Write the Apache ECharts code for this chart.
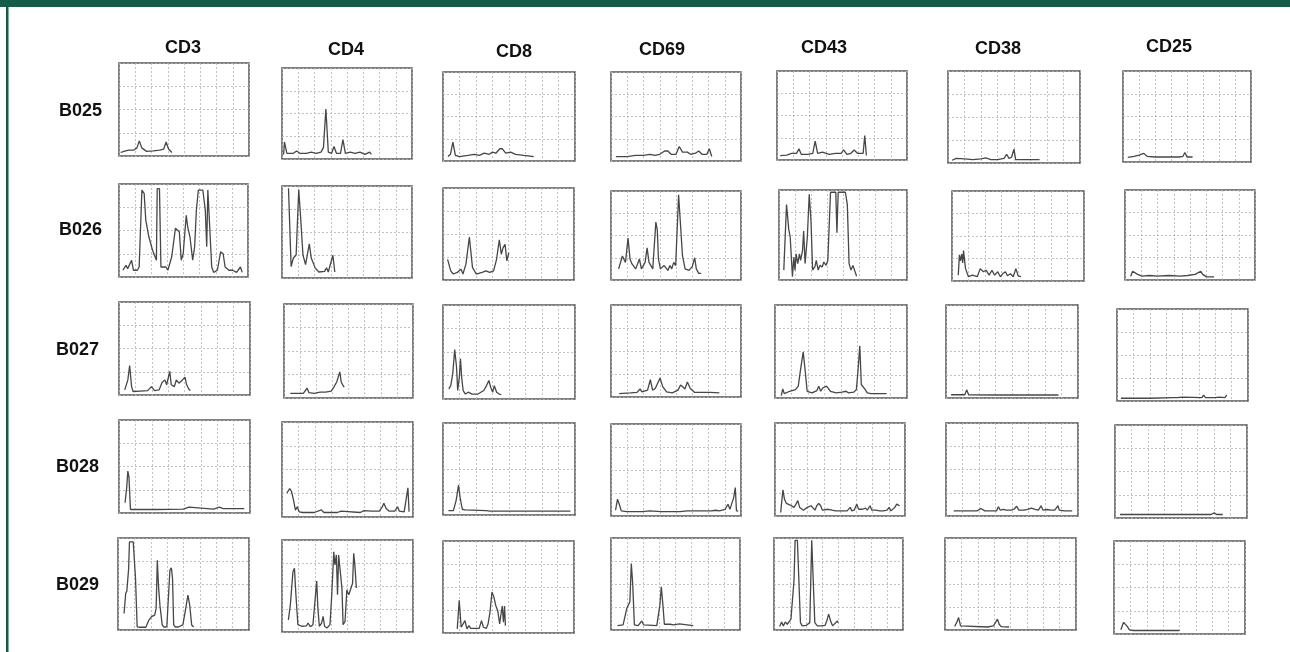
<!DOCTYPE html>
<html><head><meta charset="utf-8">
<script src="https://cdn.jsdelivr.net/npm/echarts@6/dist/echarts.min.js"></script>
<style>html,body{margin:0;padding:0;background:#fff}#c{width:1290px;height:652px}</style>
</head><body><div id="c"></div>
<script>
// ---- categories ----
const samples = ['B025','B026','B027','B028','B029'];
const markers = ['CD3','CD4','CD8','CD69','CD43','CD38','CD25'];

// ---- traces: [x (grid columns 0..8), y (grid rows 0..4)] ----
const B025_CD3 = [[0.1,0.15],[0.3,0.2],[0.6,0.25],[0.9,0.25],[1.1,0.35],[1.25,0.65],[1.4,0.35],[1.7,0.2],[2.1,0.22],[2.5,0.25],[2.75,0.3],[2.9,0.6],[3.05,0.3],[3.25,0.15]];
const B025_CD4 = [[0.1,0.2],[0.15,0.75],[0.3,0.25],[0.7,0.25],[0.9,0.35],[1.1,0.25],[1.5,0.25],[1.8,0.3],[2.1,0.25],[2.4,0.3],[2.55,0.5],[2.7,2.2],[2.85,0.3],[3.05,0.25],[3.2,0.55],[3.35,0.25],[3.6,0.25],[3.75,0.85],[3.9,0.25],[4.2,0.3],[4.5,0.25],[4.8,0.3],[5.1,0.2],[5.4,0.3],[5.5,0.2]];
const B025_CD8 = [[0.3,0.2],[0.45,0.3],[0.6,0.85],[0.75,0.25],[1.0,0.2],[1.5,0.25],[1.9,0.3],[2.2,0.25],[2.5,0.35],[2.8,0.3],[3.0,0.4],[3.2,0.35],[3.45,0.55],[3.6,0.55],[3.8,0.35],[4.1,0.4],[4.4,0.3],[4.9,0.25],[5.5,0.2]];
const B025_CD69 = [[0.3,0.2],[1.0,0.2],[1.5,0.25],[2.0,0.25],[2.4,0.3],[2.7,0.25],[3.0,0.3],[3.3,0.45],[3.5,0.45],[3.7,0.3],[4.0,0.3],[4.2,0.65],[4.4,0.4],[4.7,0.4],[4.9,0.3],[5.2,0.35],[5.4,0.45],[5.6,0.3],[5.9,0.3],[6.05,0.55],[6.2,0.2]];
const B025_CD43 = [[0.2,0.2],[0.6,0.22],[0.9,0.3],[1.2,0.3],[1.35,0.5],[1.5,0.25],[1.9,0.25],[2.2,0.3],[2.35,0.85],[2.5,0.3],[2.8,0.35],[3.2,0.25],[3.6,0.3],[3.95,0.3],[4.1,0.45],[4.3,0.25],[4.55,0.3],[4.75,0.45],[4.95,0.3],[5.3,0.3],[5.4,1.1],[5.5,0.2]];
const B025_CD38 = [[0.25,0.12],[0.5,0.2],[1.0,0.18],[1.5,0.15],[2.0,0.18],[2.3,0.22],[2.6,0.15],[3.0,0.15],[3.4,0.2],[3.55,0.38],[3.7,0.2],[3.85,0.25],[4.0,0.6],[4.1,0.15],[4.5,0.15],[5.0,0.15],[5.55,0.15]];
const B025_CD25 = [[0.3,0.2],[0.7,0.25],[1.0,0.3],[1.3,0.38],[1.5,0.25],[2.0,0.22],[2.5,0.22],[3.0,0.22],[3.5,0.22],[3.75,0.25],[3.87,0.42],[4.0,0.22],[4.35,0.22]];

const B026_CD3 = [[0.24,0.29],[0.43,0.5],[0.54,0.36],[0.78,0.72],[0.9,0.29],[1.14,0.29],[1.25,0.43],[1.42,3.74],[1.56,3.6],[1.66,2.45],[1.85,1.73],[2.08,1.15],[2.32,0.72],[2.37,3.8],[2.51,3.8],[2.6,0.43],[2.91,0.43],[3.03,0.29],[3.27,0.87],[3.5,2.1],[3.74,1.95],[3.86,0.72],[3.98,1.0],[4.17,2.65],[4.26,2.16],[4.4,1.73],[4.57,0.72],[4.69,1.3],[4.8,2.88],[4.92,3.74],[5.2,3.74],[5.35,2.88],[5.44,1.3],[5.51,3.74],[5.63,3.74],[5.75,0.43],[5.87,0.2],[6.1,0.29],[6.3,1.08],[6.46,1.0],[6.58,0.43],[6.82,0.29],[7.05,0.29],[7.29,0.2],[7.53,0.43],[7.64,0.2]];
const B026_CD4 = [[0.4,3.9],[0.56,0.5],[0.7,0.87],[0.87,1.0],[1.03,3.85],[1.15,2.6],[1.29,1.0],[1.45,0.58],[1.68,1.48],[1.8,0.87],[2.04,0.44],[2.27,0.26],[2.62,0.29],[2.74,0.44],[2.85,0.26],[2.97,0.29],[3.13,0.99],[3.25,0.26]];
const B026_CD8 = [[0.28,0.9],[0.47,0.4],[0.63,0.26],[0.87,0.33],[1.1,0.47],[1.22,0.26],[1.4,0.69],[1.61,1.87],[1.8,0.55],[2.03,0.26],[2.39,0.33],[2.62,0.4],[2.74,0.47],[2.85,0.33],[3.09,0.4],[3.27,0.9],[3.44,1.75],[3.56,1.12],[3.67,1.41],[3.79,1.55],[3.9,0.83],[4.02,1.19]];
const B026_CD69 = [[0.47,0.5],[0.7,1.08],[0.89,0.79],[1.05,1.88],[1.17,0.94],[1.29,0.72],[1.52,0.5],[1.75,0.94],[1.87,0.5],[2.1,0.79],[2.22,1.44],[2.34,0.79],[2.57,0.5],[2.76,2.6],[2.85,2.24],[2.92,0.94],[3.04,0.5],[3.27,0.65],[3.5,0.43],[3.63,0.65],[3.74,0.5],[3.86,0.79],[3.98,0.65],[4.16,3.83],[4.26,3.83],[4.4,1.08],[4.56,0.5],[4.8,0.43],[5.0,0.6],[5.15,1.0],[5.25,0.5],[5.4,0.3],[5.55,0.3]];
const B026_CD43 = [[0.3,0.44],[0.47,3.35],[0.61,2.25],[0.7,1.9],[0.84,0.15],[0.93,1.02],[1.0,0.44],[1.07,1.16],[1.17,0.73],[1.28,1.16],[1.35,0.87],[1.47,1.31],[1.54,2.18],[1.63,0.73],[1.77,1.9],[1.89,3.81],[2.0,2.62],[2.1,0.44],[2.24,0.58],[2.33,0.87],[2.45,0.44],[2.56,0.65],[2.7,0.58],[2.8,0.8],[2.94,0.65],[3.05,0.87],[3.22,3.9],[3.55,3.9],[3.62,2.1],[3.7,3.9],[4.15,3.9],[4.27,3.35],[4.38,0.73],[4.5,0.44],[4.62,0.65],[4.73,0.58],[4.85,0.17]];
const B026_CD38 = [[0.38,0.26],[0.45,1.16],[0.52,0.9],[0.59,1.2],[0.65,0.8],[0.7,1.35],[0.82,0.55],[1.0,0.19],[1.24,0.26],[1.53,0.19],[1.71,0.55],[1.9,0.41],[2.07,0.48],[2.25,0.26],[2.42,0.48],[2.58,0.26],[2.77,0.41],[2.93,0.19],[3.08,0.33],[3.24,0.41],[3.36,0.23],[3.54,0.32],[3.71,0.19],[3.87,0.55],[4.01,0.23],[4.18,0.19]];
const B026_CD25 = [[0.35,0.17],[0.47,0.39],[0.58,0.46],[0.77,0.25],[1.05,0.17],[1.52,0.2],[1.98,0.17],[2.68,0.2],[3.38,0.17],[3.85,0.2],[4.31,0.25],[4.66,0.39],[4.78,0.25],[5.01,0.14],[5.48,0.14]];

const B027_CD3 = [[0.35,0.22],[0.54,0.65],[0.65,1.27],[0.77,0.36],[0.86,0.15],[1.28,0.17],[1.75,0.19],[1.98,0.36],[2.17,0.19],[2.45,0.22],[2.63,0.54],[2.8,0.65],[2.91,0.44],[3.1,1.02],[3.19,0.44],[3.38,0.36],[3.5,0.65],[3.66,0.51],[3.85,0.63],[4.03,0.77],[4.13,0.44],[4.27,0.25],[4.36,0.19]];
const B027_CD4 = [[0.39,0.2],[1.2,0.2],[1.43,0.42],[1.54,0.23],[1.89,0.2],[2.24,0.25],[2.35,0.29],[2.58,0.25],[2.93,0.29],[3.09,0.46],[3.27,0.68],[3.46,1.11],[3.55,0.68],[3.64,0.56],[3.73,0.46]];
const B027_CD8 = [[0.35,0.43],[0.47,0.57],[0.59,1.07],[0.71,2.1],[0.82,1.36],[0.89,0.36],[0.99,0.93],[1.06,1.71],[1.13,0.93],[1.22,0.36],[1.36,0.21],[1.53,0.29],[1.76,0.21],[2.12,0.21],[2.47,0.36],[2.64,0.57],[2.78,0.79],[2.89,0.5],[3.01,0.29],[3.11,0.57],[3.25,0.29],[3.41,0.21],[3.53,0.19]];
const B027_CD69 = [[0.5,0.15],[1.2,0.18],[1.6,0.2],[1.79,0.35],[1.9,0.22],[2.25,0.3],[2.42,0.75],[2.56,0.3],[2.72,0.37],[3.02,0.82],[3.19,0.44],[3.42,0.22],[3.77,0.18],[4.12,0.3],[4.28,0.52],[4.42,0.44],[4.55,0.35],[4.7,0.65],[4.88,0.37],[5.15,0.2],[5.5,0.2],[5.85,0.2],[5.95,0.28],[6.1,0.2],[6.67,0.18]];
const B027_CD43 = [[0.38,0.1],[0.47,0.39],[0.56,0.19],[0.89,0.29],[1.24,0.36],[1.41,0.51],[1.55,1.23],[1.71,1.98],[1.83,1.16],[1.95,0.29],[2.25,0.22],[2.54,0.32],[2.65,0.51],[2.77,0.29],[2.89,0.43],[3.0,0.36],[3.12,0.51],[3.24,0.53],[3.36,0.29],[3.71,0.22],[4.06,0.25],[4.3,0.29],[4.46,0.22],[4.77,0.25],[4.93,0.36],[5.02,1.08],[5.14,2.24],[5.23,0.58],[5.35,0.51],[5.47,0.36],[5.59,0.22],[5.82,0.19],[6.76,0.19]];
const B027_CD38 = [[0.31,0.14],[1.14,0.14],[1.26,0.35],[1.37,0.14],[3.03,0.13],[5.4,0.13],[6.82,0.13]];
const B027_CD25 = [[0.24,0.12],[2.0,0.12],[3.41,0.15],[3.53,0.22],[3.65,0.15],[4.0,0.17],[4.12,0.15],[5.18,0.15],[5.29,0.25],[5.41,0.15],[6.0,0.15],[6.24,0.17],[6.59,0.15],[6.7,0.26]];

const B028_CD3 = [[0.37,0.44],[0.47,1.09],[0.54,1.8],[0.61,1.53],[0.7,0.15],[0.89,0.15],[2.28,0.15],[3.92,0.17],[4.27,0.25],[4.38,0.17],[5.78,0.17],[6.13,0.25],[6.25,0.28],[6.36,0.19],[7.65,0.19]];
const B028_CD4 = [[0.3,1.01],[0.47,1.2],[0.58,1.08],[0.7,0.72],[0.82,0.29],[0.93,0.43],[1.05,0.22],[1.28,0.19],[1.98,0.19],[2.4,0.3],[2.56,0.19],[3.38,0.19],[3.61,0.25],[3.73,0.19],[4.78,0.19],[5.01,0.27],[5.48,0.25],[5.94,0.25],[6.13,0.43],[6.22,0.58],[6.36,0.36],[6.53,0.25],[6.88,0.25],[7.06,0.43],[7.16,0.25],[7.46,0.22],[7.58,0.25],[7.69,1.23],[7.76,0.22]];
const B028_CD8 = [[0.33,0.19],[0.63,0.19],[0.8,0.65],[0.94,1.3],[1.03,0.79],[1.17,0.25],[1.33,0.22],[2.62,0.19],[2.74,0.25],[2.85,0.17],[4.73,0.17],[7.06,0.17],[7.72,0.17]];
const B028_CD69 = [[0.28,0.25],[0.4,0.73],[0.51,0.51],[0.63,0.22],[0.98,0.19],[1.91,0.19],[2.38,0.22],[3.08,0.19],[4.24,0.19],[4.71,0.22],[4.8,0.22],[6.2,0.22],[6.43,0.25],[6.67,0.22],[7.02,0.29],[7.2,0.51],[7.32,0.29],[7.44,0.22],[7.55,0.8],[7.65,1.24],[7.72,0.22],[7.83,0.22]];
const B028_CD43 = [[0.35,0.15],[0.42,0.66],[0.49,1.13],[0.58,0.73],[0.7,0.54],[0.82,0.59],[0.94,0.47],[1.05,0.44],[1.17,0.37],[1.29,0.51],[1.4,0.66],[1.52,0.37],[1.64,0.29],[1.75,0.25],[1.87,0.29],[1.99,0.37],[2.11,0.29],[2.22,0.44],[2.34,0.37],[2.46,0.25],[2.57,0.44],[2.69,0.54],[2.81,0.44],[2.92,0.25],[3.04,0.25],[3.27,0.29],[3.51,0.25],[3.74,0.22],[4.21,0.22],[4.44,0.22],[4.63,0.37],[4.73,0.22],[4.87,0.25],[5.03,0.51],[5.15,0.29],[5.26,0.37],[5.38,0.29],[5.57,0.34],[5.68,0.25],[5.85,0.44],[5.96,0.25],[6.2,0.25],[6.43,0.22],[6.67,0.22],[6.9,0.25],[7.02,0.37],[7.13,0.22],[7.37,0.37],[7.49,0.51],[7.6,0.59],[7.67,0.44]];
const B028_CD38 = [[0.47,0.22],[1.88,0.22],[2.12,0.32],[2.35,0.22],[3.06,0.22],[3.18,0.4],[3.29,0.25],[3.48,0.28],[3.65,0.25],[3.76,0.32],[3.95,0.25],[4.12,0.29],[4.28,0.42],[4.42,0.25],[4.71,0.25],[4.94,0.29],[5.18,0.34],[5.41,0.29],[5.6,0.25],[5.76,0.44],[5.88,0.25],[6.12,0.28],[6.24,0.34],[6.35,0.25],[6.59,0.25],[6.78,0.44],[6.87,0.25],[7.18,0.22],[7.41,0.22],[7.53,0.3],[7.65,0.22]];
const B028_CD25 = [[0.3,0.15],[0.54,0.15],[0.66,0.22],[0.77,0.15],[2.07,0.15],[2.18,0.17],[2.3,0.15],[3.47,0.15],[3.59,0.19],[3.71,0.15],[5.82,0.15],[6.01,0.22],[6.17,0.15],[6.53,0.15]];

const B029_CD3 = [[0.37,0.72],[0.47,1.59],[0.54,1.69],[0.61,1.73],[0.65,2.67],[0.7,3.83],[0.82,3.83],[0.93,3.83],[1.03,3.75],[1.07,2.24],[1.17,0.14],[1.35,0.12],[1.7,0.12],[1.89,0.43],[2.05,0.58],[2.24,0.65],[2.33,0.94],[2.4,3.03],[2.47,1.95],[2.56,1.08],[2.7,0.22],[2.8,0.13],[2.98,0.14],[3.1,0.22],[3.17,2.6],[3.26,2.7],[3.33,2.24],[3.4,0.22],[3.5,0.13],[3.68,0.13],[3.96,0.22],[4.1,0.79],[4.27,1.52],[4.38,1.08],[4.5,0.22],[4.62,0.13]];
const B029_CD4 = [[0.39,0.53],[0.51,1.18],[0.67,2.63],[0.76,2.77],[0.85,1.62],[0.97,0.32],[1.2,0.25],[1.5,0.27],[1.59,0.39],[1.73,0.23],[1.89,0.32],[2.0,0.39],[2.12,2.22],[2.19,1.04],[2.28,0.25],[2.42,0.39],[2.51,0.68],[2.6,0.25],[2.74,0.17],[2.93,0.32],[3.04,1.62],[3.16,3.49],[3.23,2.92],[3.32,3.35],[3.39,1.62],[3.46,3.35],[3.55,3.42],[3.66,1.91],[3.73,0.32],[3.85,0.46],[3.96,1.83],[4.08,1.62],[4.19,1.55],[4.31,2.12],[4.38,3.42],[4.45,2.92],[4.54,1.91]];
const B029_CD8 = [[0.87,0.18],[0.99,1.42],[1.11,0.25],[1.22,0.18],[1.34,0.54],[1.46,0.18],[1.58,0.32],[1.69,0.2],[1.93,0.2],[2.05,0.23],[2.21,0.2],[2.35,0.54],[2.47,0.25],[2.64,0.2],[2.75,0.39],[2.87,0.91],[2.99,1.78],[3.11,1.56],[3.22,1.2],[3.34,0.98],[3.46,0.39],[3.53,0.76],[3.62,1.17],[3.69,0.47],[3.76,1.17],[3.81,0.32]];
const B029_CD69 = [[0.4,0.19],[0.75,0.22],[0.98,0.94],[1.17,1.23],[1.26,2.89],[1.35,1.95],[1.45,0.22],[1.68,0.19],[1.91,0.39],[2.03,0.22],[2.84,0.19],[3.03,1.08],[3.12,1.88],[3.22,1.08],[3.31,0.25],[3.66,0.25],[3.89,0.22],[4.24,0.27],[4.36,0.19],[5.1,0.19]];
const B029_CD43 = [[0.35,0.15],[0.47,0.35],[0.58,0.18],[0.7,0.35],[0.82,0.25],[0.94,0.32],[1.05,0.47],[1.17,0.47],[1.24,2.15],[1.31,3.9],[1.45,3.9],[1.57,3.9],[1.64,0.32],[1.75,0.18],[1.87,0.15],[1.99,0.2],[2.11,0.18],[2.22,0.32],[2.34,3.9],[2.46,3.9],[2.53,0.32],[2.69,0.18],[2.92,0.18],[3.16,0.2],[3.27,0.39],[3.39,0.69],[3.51,0.39],[3.63,0.18],[3.74,0.25],[3.93,0.39],[3.98,0.32]];
const B029_CD38 = [[0.59,0.15],[0.71,0.32],[0.83,0.54],[0.95,0.18],[1.07,0.13],[2.6,0.13],[2.96,0.18],[3.08,0.32],[3.2,0.47],[3.31,0.25],[3.43,0.15],[3.91,0.13]];
const B029_CD25 = [[0.42,0.18],[0.52,0.39],[0.59,0.5],[0.71,0.44],[0.82,0.32],[0.94,0.18],[1.18,0.15],[1.65,0.15],[1.76,0.2],[1.88,0.15],[2.0,0.2],[2.12,0.15],[4.0,0.15]];

const traces = [
  [B025_CD3,B025_CD4,B025_CD8,B025_CD69,B025_CD43,B025_CD38,B025_CD25],
  [B026_CD3,B026_CD4,B026_CD8,B026_CD69,B026_CD43,B026_CD38,B026_CD25],
  [B027_CD3,B027_CD4,B027_CD8,B027_CD69,B027_CD43,B027_CD38,B027_CD25],
  [B028_CD3,B028_CD4,B028_CD8,B028_CD69,B028_CD43,B028_CD38,B028_CD25],
  [B029_CD3,B029_CD4,B029_CD8,B029_CD69,B029_CD43,B029_CD38,B029_CD25]
];

// ---- layout (pixel positions of each small panel: left, top, width, height) ----
const boxes = [
  [[119,63,130,93],[282,68,130,91],[443,72,132,89],[611,72,130,89],[777,71,130,89],[948,71,132,92],[1123,71,128,91]],
  [[119,184,129,93],[282,186,130,92],[443,188,131,92],[611,191,130,89],[779,190,128,90],[952,191,132,90],[1125,190,130,90]],
  [[119,302,131,93],[284,304,129,94],[443,305,132,94],[611,305,130,92],[775,305,132,93],[946,305,132,93],[1117,309,131,92]],
  [[119,420,131,93],[282,422,131,95],[443,423,132,92],[611,424,130,92],[775,423,130,93],[946,423,132,93],[1115,425,132,93]],
  [[118,538,131,92],[282,540,131,92],[443,541,131,92],[611,538,129,92],[774,538,129,92],[945,538,131,92],[1114,541,131,93]]
];
const headerPos = [[183,48],[346,50],[514,52],[662,50],[824,48],[998,49],[1169,47]];
const labelPos = [[59,111],[59,230],[56,350],[56,467],[56,585]];

const grid = [], xAxis = [], yAxis = [], series = [];
let k = 0;
for (let r = 0; r < samples.length; r++) {
  for (let c = 0; c < markers.length; c++) {
    const b = boxes[r][c];
    grid.push({left:b[0], top:b[1], width:b[2], height:b[3], show:true,
      borderColor:'#555', borderWidth:1.5, backgroundColor:'#fff'});
    const split = {show:true, lineStyle:{color:'#b4b4b4', width:0.8, type:[2,2]}};
    xAxis.push({type:'value', gridIndex:k, min:0, max:8, interval:1,
      axisLabel:{show:false}, axisTick:{show:false}, axisLine:{show:false}, splitLine:split});
    yAxis.push({type:'value', gridIndex:k, min:0, max:4, interval:1,
      axisLabel:{show:false}, axisTick:{show:false}, axisLine:{show:false}, splitLine:split});
    series.push({type:'line', xAxisIndex:k, yAxisIndex:k, data:traces[r][c],
      showSymbol:false, silent:true, clip:true,
      lineStyle:{color:'#474747', width:1.3}});
    k++;
  }
}

const graphic = [
  {type:'rect', shape:{x:0,y:0,width:1290,height:7}, style:{fill:'#135c48'}},
  {type:'rect', shape:{x:6,y:0,width:2.5,height:652}, style:{fill:'#135c48'}}
];
const font = 'bold 18px "Liberation Sans", Arial, sans-serif';
markers.forEach((m,i) => graphic.push({type:'text', x:headerPos[i][0], y:headerPos[i][1],
  style:{text:m, fill:'#111', font:font, align:'center', verticalAlign:'middle'}}));
samples.forEach((s,i) => graphic.push({type:'text', x:labelPos[i][0], y:labelPos[i][1],
  style:{text:s, fill:'#111', font:font, align:'left', verticalAlign:'middle'}}));

const chart = echarts.init(document.getElementById('c'), null, {renderer:'canvas'});
chart.setOption({animation:false, backgroundColor:'#fff', grid, xAxis, yAxis, series, graphic});
</script></body></html>
